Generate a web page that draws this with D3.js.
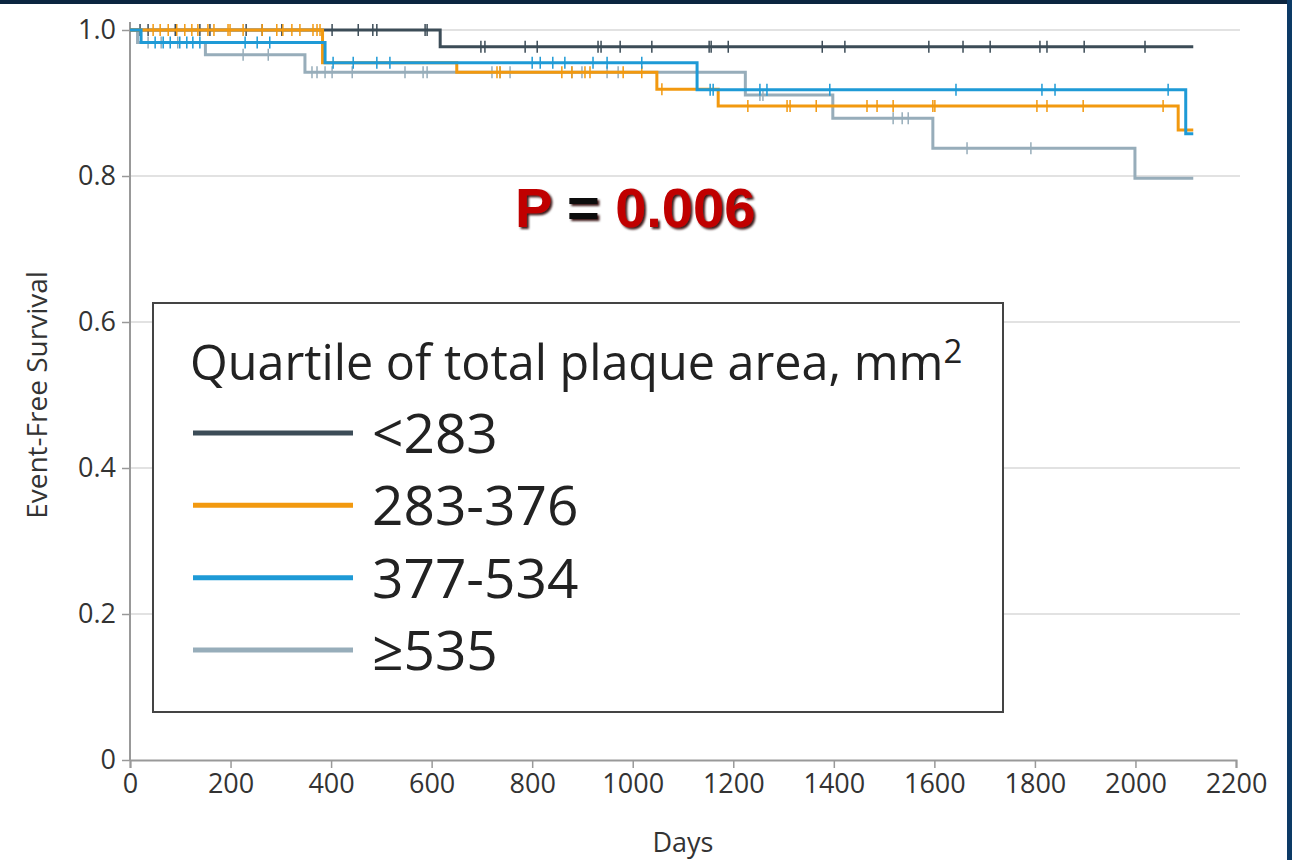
<!DOCTYPE html>
<html>
<head>
<meta charset="utf-8">
<script src="https://cdn.jsdelivr.net/npm/d3@7"></script>
<style>
  html, body { margin: 0; padding: 0; background: #fff; }
  #container { width: 1292px; height: 860px; position: relative; }
</style>
</head>
<body>
<div id="container"></div>
<script>
// Dimensions
const width = 1292;
const height = 860;

// Données
const groups = ["<283", "283-376", "377-534", "≥535"];
const colors = ["#3c4c57", "#f2990f", "#1e9ad6", "#97adba"];

// étapes [jour, survie]
const stepsLow = [[0, 1.0], [617, 0.977]];
const stepsQ2 = [[0, 1.0], [383, 0.955], [650, 0.942], [1048, 0.919], [1170, 0.896], [2085, 0.863]];
const stepsQ3 = [[0, 1.0], [22, 0.983], [388, 0.955], [1128, 0.918], [2100, 0.858]];
const stepsHigh = [[0, 1.0], [15, 0.983], [150, 0.966], [348, 0.942], [1224, 0.911], [1398, 0.879], [1597, 0.838], [1999, 0.797]];
const endDay = 2115;

// censures (jours)
const censLow = [20, 36, 90, 139, 159, 231, 263, 302, 402, 454, 483, 491, 587, 591, 698, 706, 786, 810, 931, 937, 975, 1038, 1152, 1156, 1190, 1377, 1422, 1589, 1657, 1711, 1810, 1824, 1898, 2019];
const censQ2 = [46, 60, 76, 93, 109, 123, 135, 155, 167, 195, 199, 225, 263, 292, 304, 322, 338, 364, 372, 378, 730, 736, 859, 879, 905, 915, 981, 1018, 1058, 1229, 1307, 1313, 1365, 1466, 1486, 1518, 1597, 1601, 1804, 1824, 1896, 2055];
const censQ3 = [50, 66, 80, 99, 113, 125, 139, 229, 253, 278, 404, 444, 491, 517, 800, 816, 841, 865, 921, 949, 1018, 1154, 1160, 1253, 1267, 1392, 1643, 1814, 1840, 2065];
const censHigh = [36, 62, 95, 225, 275, 362, 372, 388, 402, 442, 547, 583, 591, 720, 736, 756, 879, 899, 949, 971, 1253, 1259, 1518, 1536, 1548, 1665, 1792];

const yTicks = [0, 0.2, 0.4, 0.6, 0.8, 1.0];
const xTicks = [0, 200, 400, 600, 800, 1000, 1200, 1400, 1600, 1800, 2000, 2200];

const series = [
  { name: groups[0], color: colors[0], steps: stepsLow, cens: censLow },
  { name: groups[1], color: colors[1], steps: stepsQ2, cens: censQ2 },
  { name: groups[2], color: colors[2], steps: stepsQ3, cens: censQ3 },
  { name: groups[3], color: colors[3], steps: stepsHigh, cens: censHigh }
];

const font = "'Open Sans', sans-serif";

const xScale = d3.scaleLinear().domain([0, 2200]).range([130, 1236]);
const yScale = d3.scaleLinear().domain([0, 1]).range([760, 30]);

const svg = d3.select("#container").append("svg")
  .attr("width", width)
  .attr("height", height);

// ombre du texte P
const defs = svg.append("defs");
defs.append("filter").attr("id", "shadow")
  .attr("x", "-10%").attr("y", "-20%").attr("width", "120%").attr("height", "140%")
  .append("feDropShadow")
  .attr("dx", 2).attr("dy", 2).attr("stdDeviation", 0.8)
  .attr("flood-color", "#2a0000").attr("flood-opacity", 0.9);

svg.append("rect").attr("width", width).attr("height", height).attr("fill", "#fff");

// Grille
svg.append("g").selectAll("line")
  .data(yTicks.filter(d => d > 0))
  .enter().append("line")
  .attr("x1", xScale(0)).attr("x2", 1240)
  .attr("y1", d => yScale(d)).attr("y2", d => yScale(d))
  .attr("stroke", "#e2e2e2").attr("stroke-width", 2);

// Axes
const yAxis = svg.append("g")
  .attr("transform", `translate(${xScale(0)},0)`)
  .call(d3.axisLeft(yScale).tickValues(yTicks).tickSize(8).tickPadding(6)
    .tickFormat(d => d === 0 ? "0" : d3.format(".1f")(d)));
yAxis.select(".domain").attr("stroke", "#999").attr("stroke-width", 2)
  .attr("d", `M0,${yScale(1) - 8}V${yScale(0)}`);

const xAxis = svg.append("g")
  .attr("transform", `translate(0,${yScale(0)})`)
  .call(d3.axisBottom(xScale).tickValues(xTicks).tickSize(8).tickPadding(6)
    .tickFormat(d3.format("d")));
xAxis.select(".domain").attr("stroke", "#999").attr("stroke-width", 2);

svg.selectAll(".tick line").attr("stroke", "#999").attr("stroke-width", 1.5);
svg.selectAll(".tick text")
  .attr("font-family", font).attr("font-size", 27).attr("fill", "#333");

// Titres d'axes
svg.append("text")
  .attr("x", (xScale(0) + xScale(2200)) / 2).attr("y", 852)
  .attr("text-anchor", "middle")
  .attr("font-family", font).attr("font-size", 27).attr("fill", "#333")
  .text("Days");

svg.append("text")
  .attr("transform", `translate(47,${(yScale(0) + yScale(1)) / 2}) rotate(-90)`)
  .attr("text-anchor", "middle")
  .attr("font-family", font).attr("font-size", 28).attr("fill", "#333")
  .text("Event-Free Survival");

// Courbes
const line = d3.line()
  .x(d => xScale(d[0]))
  .y(d => yScale(d[1]))
  .curve(d3.curveStepAfter);

function survAt(steps, day) {
  let s = steps[0][1];
  steps.forEach(p => { if (p[0] <= day) s = p[1]; });
  return s;
}

const drawOrder = [3, 0, 1, 2];
drawOrder.forEach(i => {
  const s = series[i];
  const pts = s.steps.concat([[endDay, s.steps[s.steps.length - 1][1]]]);
  svg.append("path")
    .datum(pts)
    .attr("d", line)
    .attr("fill", "none")
    .attr("stroke", s.color)
    .attr("stroke-width", 3);

  svg.append("g").selectAll("line")
    .data(s.cens)
    .enter().append("line")
    .attr("x1", d => xScale(d)).attr("x2", d => xScale(d))
    .attr("y1", d => yScale(survAt(s.steps, d)) - 6)
    .attr("y2", d => yScale(survAt(s.steps, d)) + 6)
    .attr("stroke", s.color)
    .attr("stroke-width", 1.5);
});

// P-value
const pMain = svg.append("text")
  .attr("x", 515).attr("y", 227)
  .attr("font-family", "'Liberation Sans', Arial, sans-serif")
  .attr("font-weight", "bold").attr("font-size", 56)
  .attr("fill", "#c00000")
  .attr("filter", "url(#shadow)");
pMain.append("tspan").text("P ");
pMain.append("tspan").attr("fill", "#111").text("=");
pMain.append("tspan").text(" 0.006");

// Légende
const legend = svg.append("g");
legend.append("rect")
  .attr("x", 153).attr("y", 303).attr("width", 850).attr("height", 409)
  .attr("fill", "#fff").attr("stroke", "#444").attr("stroke-width", 2);

const title = legend.append("text")
  .attr("x", 190).attr("y", 380)
  .attr("font-family", font).attr("font-size", 48.5).attr("fill", "#222");
title.append("tspan").text("Quartile of total plaque area, mm");
title.append("tspan").attr("dy", -17).attr("font-size", 33).text("2");

const legendY = d3.scalePoint().domain(groups).range([433, 650]);

legend.selectAll(".entry")
  .data(series)
  .enter().append("g")
  .attr("class", "entry")
  .each(function (d) {
    const g = d3.select(this);
    const y = legendY(d.name);
    g.append("line")
      .attr("x1", 193).attr("x2", 353)
      .attr("y1", y).attr("y2", y)
      .attr("stroke", d.color).attr("stroke-width", 5);
    g.append("text")
      .attr("x", 372).attr("y", y + 20)
      .attr("font-family", font).attr("font-size", 55).attr("fill", "#222")
      .text(d.name);
  });

// Cadre
svg.append("rect").attr("x", 0).attr("y", 0).attr("width", width).attr("height", 4).attr("fill", "#0b2540");
svg.append("rect").attr("x", 1287).attr("y", 0).attr("width", 5).attr("height", height).attr("fill", "#0c3a66");
</script>
</body>
</html>
